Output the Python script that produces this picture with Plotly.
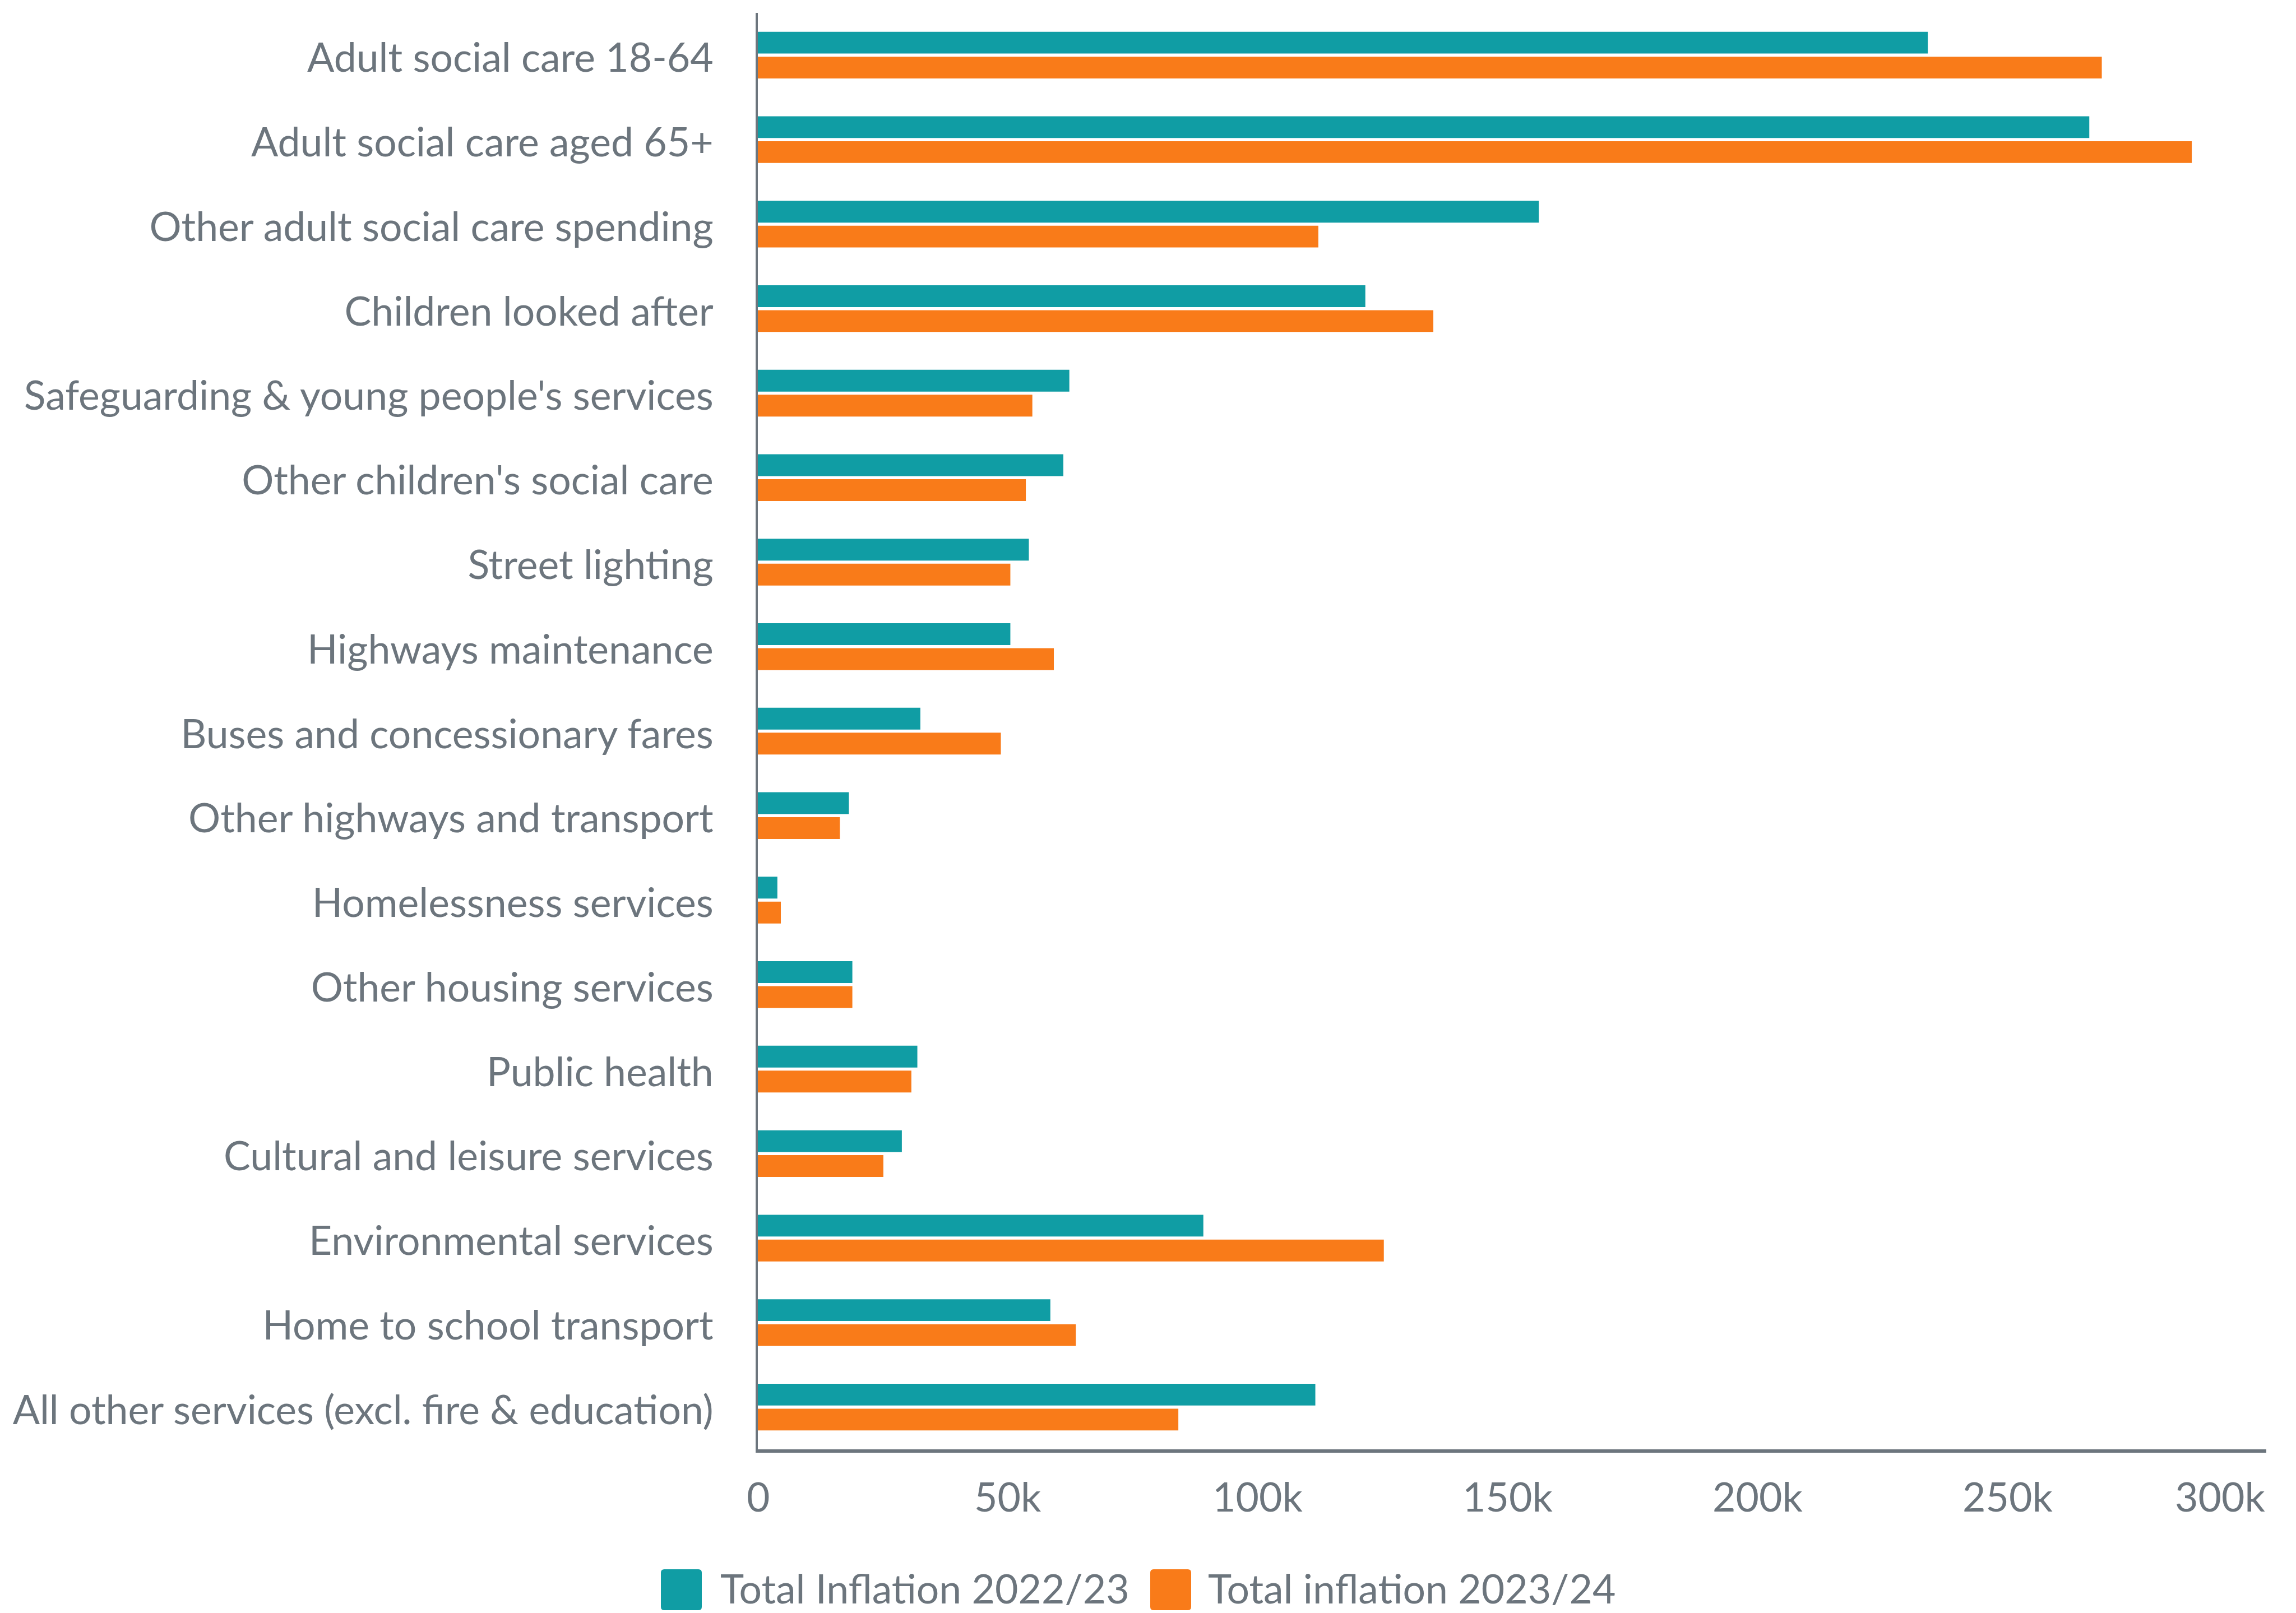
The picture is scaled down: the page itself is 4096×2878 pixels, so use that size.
import plotly.graph_objects as go

# Service categories (top to bottom)
categories = [
    "Adult social care 18-64",
    "Adult social care aged 65+",
    "Other adult social care spending",
    "Children looked after",
    "Safeguarding & young people's services",
    "Other children's social care",
    "Street lighting",
    "Highways maintenance",
    "Buses and concessionary fares",
    "Other highways and transport",
    "Homelessness services",
    "Other housing services",
    "Public health",
    "Cultural and leisure services",
    "Environmental services",
    "Home to school transport",
    "All other services (excl. fire & education)",
]

# Values in £ thousands
inflation_2022_23 = [234.0, 266.3, 156.2, 121.5, 62.3, 61.1, 54.2, 50.5, 32.5, 18.2,
                     3.9, 18.9, 31.9, 28.8, 89.1, 58.5, 111.5]
inflation_2023_24 = [268.8, 286.8, 112.1, 135.1, 54.9, 53.6, 50.5, 59.2, 48.6, 16.4,
                     4.6, 18.9, 30.7, 25.1, 125.2, 63.6, 84.1]

series_names = ["Total Inflation 2022/23", "Total inflation 2023/24"]
series_colors = ["#109DA4", "#F97B19"]

x_tick_vals = [0, 50000, 100000, 150000, 200000, 250000, 300000]
x_tick_text = ["0", "50k", "100k", "150k", "200k", "250k", "300k"]
x_max = 301700

W, H = 4096, 2878
L, R, T, B = 1352, 53, 23, 292
PW, PH = W - L - R, H - T - B
TEXT = "#6C757D"
FONT = "Lato"
FS = 71.5


def px_x(px):
    return (px - L) / PW


def px_y(py):
    return (H - B - py) / PH


fig = go.Figure()
for name, vals, col in zip(series_names, [inflation_2022_23, inflation_2023_24], series_colors):
    fig.add_trace(go.Bar(
        y=categories,
        x=[v * 1000 for v in vals],
        name=name,
        orientation="h",
        marker=dict(color=col, line=dict(width=0)),
        showlegend=False,
    ))

# x-axis tick labels (last one kept inside the plot edge)
label_y = px_y(2669)
for v, t in zip(x_tick_vals, x_tick_text):
    last = v == x_tick_vals[-1]
    fig.add_annotation(
        x=x_max if last else v, xref="x", y=label_y, yref="paper",
        text=t, showarrow=False,
        xanchor="right" if last else "center", yanchor="middle",
        font=dict(family=FONT, size=FS, color=TEXT),
    )

# Legend: rounded swatches + labels
def rounded_rect(x0, y0, x1, y1, r):
    X = lambda p: px_x(p)
    Y = lambda p: px_y(p)
    return (f"M {X(x0 + r)},{Y(y0)} L {X(x1 - r)},{Y(y0)} Q {X(x1)},{Y(y0)} {X(x1)},{Y(y0 + r)} "
            f"L {X(x1)},{Y(y1 - r)} Q {X(x1)},{Y(y1)} {X(x1 - r)},{Y(y1)} "
            f"L {X(x0 + r)},{Y(y1)} Q {X(x0)},{Y(y1)} {X(x0)},{Y(y1 - r)} "
            f"L {X(x0)},{Y(y0 + r)} Q {X(x0)},{Y(y0)} {X(x0 + r)},{Y(y0)} Z")


legend_items = [(1179, 1283), (2052, 2153)]
for (sx, tx), name, col in zip(legend_items, series_names, series_colors):
    fig.add_shape(type="path", xref="paper", yref="paper",
                  path=rounded_rect(sx, 2800, sx + 73, 2873, 6),
                  fillcolor=col, line=dict(width=0), layer="above")
    fig.add_annotation(x=px_x(tx), xref="paper", y=px_y(H), yref="paper",
                       text=name, showarrow=False, xanchor="left", yanchor="bottom",
                       font=dict(family=FONT, size=FS, color=TEXT))

fig.update_layout(
    width=W, height=H,
    margin=dict(l=L, r=R, t=T, b=B, pad=0, autoexpand=False),
    paper_bgcolor="white", plot_bgcolor="white",
    barmode="group", bargap=0.41, bargroupgap=0.125,
    font=dict(family=FONT, size=FS, color=TEXT),
)
fig.update_xaxes(
    range=[0, x_max], showgrid=False, zeroline=False,
    showticklabels=False, ticks="", automargin=False,
    showline=True, linecolor=TEXT, linewidth=6,
)
fig.update_yaxes(
    categoryorder="array", categoryarray=categories, autorange="reversed",
    showgrid=False, zeroline=False, ticks="", automargin=False,
    showline=True, linecolor=TEXT, linewidth=4,
    tickfont=dict(family=FONT, size=FS, color=TEXT),
    ticklabelstandoff=61, ticklabelshift=-5,
)

fig.write_html("out.html")
